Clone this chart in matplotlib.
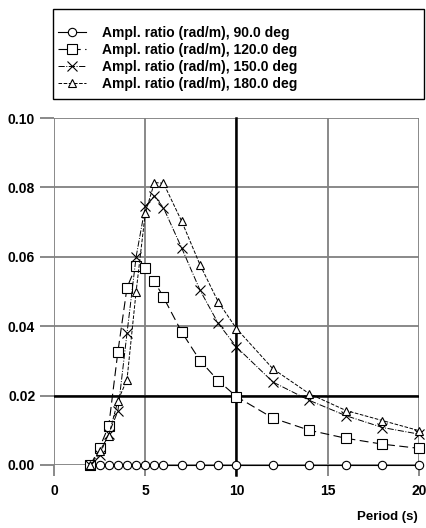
import matplotlib
matplotlib.use("Agg")
import matplotlib.pyplot as plt
from matplotlib.patches import Rectangle

plt.rcParams['font.family'] = ['Liberation Sans Narrow', 'Liberation Sans', 'DejaVu Sans']
plt.rcParams['font.weight'] = 'bold'

# wave period (s)
period = [2.0, 2.5, 3.0, 3.5, 4.0, 4.5, 5.0, 5.5, 6.0, 7.0, 8.0, 9.0, 10.0, 12.0, 14.0, 16.0, 18.0, 20.0]

# amplitude ratio (rad/m) per heading
ratio_90 = [0.0] * 18
ratio_120 = [0.0, 0.005, 0.0113, 0.0326, 0.0511, 0.0574, 0.0567, 0.053, 0.0483, 0.0383,
             0.0301, 0.0243, 0.0197, 0.0135, 0.0100, 0.0077, 0.0060, 0.0048]
ratio_150 = [0.0, 0.003, 0.009, 0.0155, 0.038, 0.060, 0.0745, 0.0775, 0.0741, 0.0625,
             0.0504, 0.0408, 0.034, 0.0239, 0.0186, 0.0142, 0.0108, 0.0089]
ratio_180 = [0.0, 0.004, 0.0085, 0.0185, 0.0246, 0.050, 0.0725, 0.0814, 0.0812, 0.0702,
             0.0577, 0.047, 0.0393, 0.0277, 0.0205, 0.0157, 0.0128, 0.0099]

labels = ["Ampl. ratio (rad/m), 90.0 deg", "Ampl. ratio (rad/m), 120.0 deg",
          "Ampl. ratio (rad/m), 150.0 deg", "Ampl. ratio (rad/m), 180.0 deg"]

W, H = 427, 528
fig = plt.figure(figsize=(W / 100, H / 100), dpi=100)
ax = fig.add_axes([54 / W, 1 - 465 / H, (419 - 54) / W, (465 - 118) / H])

for s in ax.spines.values():
    s.set_visible(False)

grey = "#808080"
ax.set_xlim(0, 20)
ax.set_ylim(0, 0.10)
ax.set_xticks([0, 5, 10, 15, 20])
ax.set_yticks([0.0, 0.02, 0.04, 0.06, 0.08, 0.10])
ax.set_yticklabels(["0.00", "0.02", "0.04", "0.06", "0.08", "0.10"])
ax.grid(True, color=grey, lw=1.3)
ax.tick_params(axis="y", direction="out", length=10, width=1.3, color=grey, pad=3.5, labelsize=10)
ax.tick_params(axis="x", direction="out", length=8, width=1.3, color=grey, pad=6, labelsize=10)
for t in ax.get_xticklabels() + ax.get_yticklabels():
    t.set_fontweight("bold")

# heavy cursor lines
ax.axvline(10, ymin=-0.03, ymax=1, color="k", lw=1.8, clip_on=False, zorder=2)
ax.axhline(0.02, color="k", lw=1.8, zorder=2)

mk = dict(color="k", mfc="white", mec="k", mew=0.8, clip_on=False, zorder=3)
l1, = ax.plot(period, ratio_90, ls="-", lw=0.8, marker="o", ms=6, **mk)
l2, = ax.plot(period, ratio_120, ls=(0, (8, 4)), lw=0.8, marker="s", ms=7.5, **mk)
l3, = ax.plot(period, ratio_150, ls="-.", lw=0.7, marker="x", ms=7.5, **mk)
l4, = ax.plot(period, ratio_180, ls="--", lw=0.7, marker="^", ms=5.5, **mk)

fig.add_artist(Rectangle((53 / W, 1 - 99 / H), (424 - 53) / W, 90 / H,
                         transform=fig.transFigure, fill=False, ec="k", lw=1))
fig.legend([l1, l2, l3, l4], labels, loc="upper left",
           bbox_to_anchor=(58 / W, 1 - 26 / H), frameon=False, borderpad=0,
           borderaxespad=0, handlelength=2.0, handletextpad=1.2, labelspacing=0.22,
           prop={"size": 10, "weight": "bold"})

fig.text(418 / W, 1 - 517 / H, "Period (s)", ha="right", va="center", fontsize=9.5, fontweight="bold")

fig.savefig("out.png", dpi=100)
